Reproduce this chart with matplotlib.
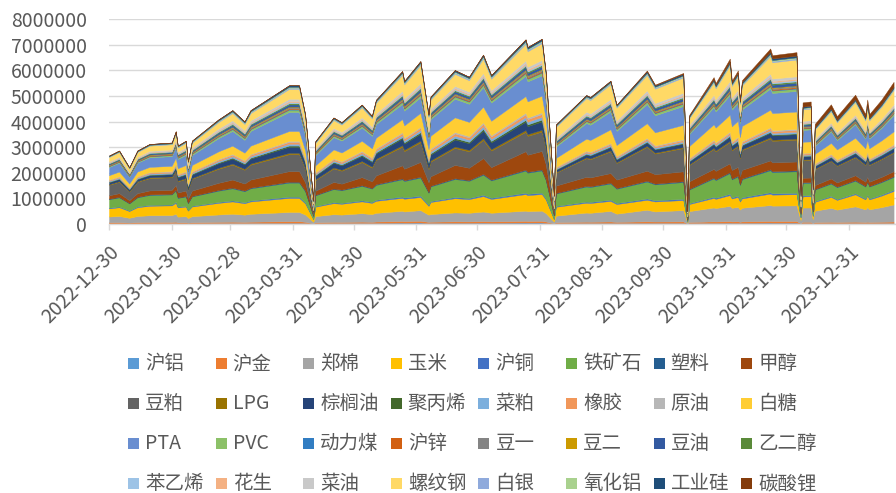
"""
各品种持仓量堆积面积图 (2022-12-30 ~ 2024-01)
数值单位: 千手, 画图时 x1000
"""
import datetime as dt

import matplotlib
matplotlib.use("Agg")
import matplotlib.pyplot as plt
from matplotlib.patches import Rectangle
from matplotlib.ticker import FuncFormatter

plt.rcParams['font.family'] = ['Noto Sans CJK SC', 'DejaVu Sans']

DATES = [
    "2022-12-30", "2023-01-04", "2023-01-09", "2023-01-13", "2023-01-19", "2023-01-30", "2023-02-01",
    "2023-02-02", "2023-02-06", "2023-02-07", "2023-02-09", "2023-02-22", "2023-03-01", "2023-03-07",
    "2023-03-10", "2023-03-29", "2023-04-03", "2023-04-06", "2023-04-10",
    "2023-04-11", "2023-04-20", "2023-04-24", "2023-05-04", "2023-05-09", "2023-05-11", "2023-05-24",
    "2023-05-25", "2023-06-02", "2023-06-06",
    "2023-06-07", "2023-06-19", "2023-06-26", "2023-07-03", "2023-07-07", "2023-07-24", "2023-07-25",
    "2023-08-01", "2023-08-03", "2023-08-07",
    "2023-08-08", "2023-08-23", "2023-08-25", "2023-09-04", "2023-09-07", "2023-09-22", "2023-09-26",
    "2023-10-10", "2023-10-12",
    "2023-10-13", "2023-10-25", "2023-10-26", "2023-11-02", "2023-11-03", "2023-11-06", "2023-11-07",
    "2023-11-08", "2023-11-22", "2023-11-23", "2023-12-05", "2023-12-07",
    "2023-12-08", "2023-12-12", "2023-12-13", "2023-12-14", "2023-12-22", "2023-12-25", "2024-01-03",
    "2024-01-08", "2024-01-09", "2024-01-10", "2024-01-16", "2024-01-22",
]

hu_lv = [29, 31, 24, 31, 34, 35, 40,  30, 32, 24, 32, 39, 42, 38, 42, 50, 50, 39,  9,
         32, 40, 39, 44, 41, 46, 55, 52, 58, 39,  45, 51, 50, 55, 50, 58, 56, 58, 47,  10,
         35, 43, 42, 46, 40, 48, 45, 47,  5,  38, 48, 47, 53, 48, 50, 42, 48, 55, 53, 54,  10,
         40, 40, 13, 35, 40, 37, 42, 37, 41, 37, 41, 44]
hu_jin = [37, 40, 31, 40, 43, 44, 50,  33, 35, 26, 35, 45, 49, 44, 49, 61, 61, 48,  9,
          34, 43, 41, 49, 44, 51, 63, 59, 67, 45,  45, 54, 52, 59, 52, 65, 62, 65, 53,  10,
          37, 48, 47, 53, 44, 57, 52, 56,  5,  40, 55, 52, 61, 53, 57, 46, 53, 65, 63, 64,  11,
          45, 45, 13, 37, 44, 40, 48, 40, 46, 40, 46, 53]
zheng_mian = [225, 242, 187, 242, 264, 269, 306,  225, 237, 180, 237, 287, 308, 283, 308, 358, 358, 283,  68,
              240, 298, 287, 328, 302, 338, 397, 378, 416, 280,  298, 346, 335, 372, 337, 396, 384, 397, 325,  72,
              252, 355, 348, 411, 319, 450, 393, 440,  50,
              426, 541, 524, 592, 531, 560, 473, 533, 618, 601, 609,  130,
              556, 560, 161, 445, 545, 484, 597, 495, 571, 495, 571, 666]
yu_mi = [318, 342, 264, 342, 372, 379, 432,  360, 379, 288, 379, 453, 482, 447, 482, 550, 550, 435,  104,
         368, 433, 423, 462, 438, 470, 505, 497, 512, 344,  471, 556, 535, 603, 540, 648, 626, 650, 531,  99,
         348, 385, 383, 391, 376, 390, 390, 391,  33,
         277, 373, 358, 421, 364, 390, 315, 365, 447, 429, 437,  102,
         438, 441, 126, 348, 429, 380, 471, 389, 450, 389, 450, 527]
hu_tong = [27, 29, 22, 29, 31, 32, 36,  26, 27, 20, 27, 35, 38, 34, 38, 47, 47, 37,  8,
           27, 35, 34, 40, 36, 41, 51, 48, 54, 37,  37, 45, 43, 50, 44, 54, 52, 54, 44,  9,
           33, 43, 42, 48, 40, 51, 46, 50,  4,  34, 46, 44, 52, 45, 48, 39, 45, 55, 53, 54,  9,
           38, 38, 11, 31, 37, 33, 40, 34, 39, 34, 39, 44]
tie_kuang = [331, 356, 275, 356, 388, 395, 450,  345, 364, 276, 364, 441, 473, 434, 473, 550, 550, 435,  117,
             416, 513, 495, 563, 520, 580, 674, 644, 704, 473,  570, 704, 670, 783, 678, 864, 823, 866, 708,  138,
             484, 589, 582, 633, 556, 660, 619, 654,  63,
             533, 718, 688, 809, 700, 750, 605, 703, 859, 825, 840,  130,
             485, 485, 161, 445, 481, 462, 491, 466, 486, 466, 486, 500]
su_liao = [19, 20, 15, 20, 22, 22, 25,  18, 19, 14, 19, 24, 27, 24, 27, 33, 33, 26,  5,
           18, 23, 22, 26, 23, 27, 33, 31, 35, 24,  25, 30, 29, 33, 29, 36, 35, 36, 30,  6,
           21, 28, 27, 31, 26, 33, 30, 32,  3,  23, 32, 30, 36, 31, 33, 27, 31, 38, 36, 37,  6,
           26, 26, 8, 21, 26, 23, 28, 23, 27, 23, 27, 31]
jia_chun = [133, 143, 110, 143, 155, 158, 180,  195, 211, 156, 211, 281, 315, 274, 315, 413, 413, 326,  45,
            160, 257, 234, 316, 262, 341, 511, 448, 576, 387,  372, 519, 481, 616, 489, 718, 666, 722, 590,  83,
            290, 350, 347, 375, 332, 390, 368, 386,  35,
            298, 336, 332, 343, 335, 340, 318, 335, 344, 343, 344,  45,
            177, 178, 56, 155, 175, 163, 184, 166, 180, 166, 180, 194]
dou_po = [411, 442, 341, 442, 481, 490, 558,  435, 458, 348, 458, 546, 581, 538, 581, 660, 660, 522,  117,
          416, 526, 504, 584, 533, 605, 727, 686, 768, 516,  570, 662, 640, 711, 646, 756, 734, 758, 620,  143,
          503, 725, 708, 846, 648, 930, 805, 907,  75,
          639, 779, 759, 833, 769, 800, 699, 770, 859, 842, 850,  181,
          686, 686, 224, 619, 680, 646, 701, 652, 690, 652, 690, 722]
lpg = [27, 29, 22, 29, 31, 32, 36,  30, 32, 24, 32, 41, 45, 40, 45, 55, 55, 44,  9,
       32, 41, 40, 47, 42, 48, 60, 56, 64, 43,  50, 60, 57, 66, 58, 72, 69, 72, 59,  8,
       27, 35, 35, 39, 33, 42, 38, 41,  4,  30, 40, 39, 45, 39, 42, 34, 39, 48, 46, 47,  7,
       28, 29, 8, 23, 28, 25, 30, 26, 29, 26, 29, 33]
zong_lv = [72, 77, 59, 77, 84, 85, 97,  128, 136, 102, 136, 173, 189, 169, 189, 234, 234, 185,  38,
           136, 176, 168, 198, 179, 206, 255, 238, 272, 183,  223, 270, 258, 297, 261, 324, 311, 325, 266,  24,
           85, 111, 109, 124, 102, 132, 119, 130,  13,
           107, 144, 138, 162, 140, 150, 121, 141, 172, 165, 168,  28,
           118, 119, 35, 97, 116, 105, 126, 107, 121, 107, 121, 139]
ju_bing = [19, 20, 15, 20, 22, 22, 25,  27, 29, 22, 29, 37, 40, 36, 40, 50, 50, 39,  8,
           29, 37, 36, 42, 38, 44, 54, 50, 58, 39,  50, 60, 57, 66, 58, 72, 69, 72, 59,  6,
           19, 25, 25, 28, 23, 30, 27, 30,  3,  21, 29, 28, 32, 28, 30, 24, 28, 34, 33, 34,  6,
           24, 24, 7, 19, 23, 21, 25, 21, 24, 21, 24, 28]
cai_po = [34, 37, 29, 37, 40, 41, 47,  39, 42, 31, 42, 53, 58, 52, 58, 72, 72, 57,  12,
          42, 54, 51, 60, 55, 63, 78, 73, 83, 56,  74, 90, 86, 99, 87, 108, 104, 108, 89,  11,
          39, 50, 50, 56, 47, 60, 54, 59,  5,  43, 57, 55, 65, 56, 60, 48, 56, 69, 66, 67,  10,
          43, 43, 13, 35, 42, 38, 45, 38, 44, 38, 44, 50]
xiang_jiao = [32, 34, 26, 34, 37, 38, 43,  40, 41, 31, 41, 52, 58, 51, 58, 71, 72, 56,  12,
              41, 54, 52, 60, 54, 63, 77, 73, 84, 56,  74, 89, 86, 98, 87, 107, 103, 108, 88,  10,
              35, 45, 45, 51, 42, 54, 49, 53,  5,  43, 58, 55, 64, 56, 61, 48, 57, 69, 66, 68,  10,
              42, 43, 12, 35, 41, 38, 46, 38, 43, 38, 43, 50]
yuan_you = [19, 20, 15, 20, 22, 22, 25,  21, 22, 17, 22, 28, 31, 28, 31, 39, 39, 30,  6,
            22, 29, 28, 33, 29, 34, 42, 39, 45, 30,  45, 54, 52, 59, 52, 65, 62, 65, 53,  7,
            23, 30, 30, 34, 28, 36, 33, 35,  3,  26, 34, 33, 39, 34, 36, 29, 34, 41, 40, 40,  7,
            28, 29, 8, 23, 28, 25, 30, 26, 29, 26, 29, 33]
bai_tang = [172, 185, 143, 185, 202, 205, 234,  225, 239, 180, 239, 296, 321, 291, 321, 385, 385, 305,  77,
            272, 352, 336, 395, 357, 411, 510, 476, 544, 366,  496, 572, 554, 612, 559, 648, 631, 650, 531,  99,
            348, 468, 459, 529, 427, 570, 509, 559,  55,
            469, 599, 579, 657, 587, 620, 522, 589, 687, 667, 676,  106,
            435, 437, 132, 364, 429, 390, 460, 397, 444, 397, 444, 500]
pta = [318, 342, 264, 342, 372, 379, 432,  360, 388, 288, 388, 513, 573, 501, 573, 743, 743, 587,  113,
       400, 480, 466, 518, 486, 531, 592, 574, 608, 409,  645, 725, 706, 762, 711, 792, 778, 794, 649,  127,
       445, 607, 596, 692, 552, 750, 664, 735,  55,
       469, 664, 631, 767, 645, 700, 543, 647, 824, 785, 802,  90,
       461, 469, 112, 310, 447, 361, 527, 375, 485, 375, 485, 638]
pvc = [34, 37, 29, 37, 40, 41, 47,  48, 51, 38, 51, 65, 71, 64, 71, 88, 88, 70,  13,
       46, 60, 57, 67, 61, 70, 87, 81, 93, 62,  69, 84, 80, 92, 81, 101, 97, 101, 83,  17,
       58, 76, 74, 84, 70, 90, 81, 89,  7,  58, 77, 74, 87, 76, 81, 65, 76, 93, 89, 91,  13,
       54, 55, 16, 45, 53, 48, 58, 49, 56, 49, 56, 64]
dong_li_mei = [11, 11, 9, 11, 12, 13, 14,  12, 13, 10, 13, 16, 18, 16, 18, 22, 22, 17,  3,
               10, 12, 12, 14, 13, 15, 18, 17, 19, 13,  15, 18, 17, 20, 17, 22, 21, 22, 18,  3,
               12, 15, 15, 17, 14, 18, 16, 18,  2,  13, 17, 17, 19, 17, 18, 15, 17, 21, 20, 20,  3,
               14, 14, 4, 12, 14, 13, 15, 13, 15, 13, 15, 17]
hu_xin = [19, 20, 15, 20, 22, 22, 25,  18, 19, 14, 19, 24, 27, 24, 27, 33, 33, 26,  5,
          19, 25, 24, 28, 25, 29, 36, 34, 38, 26,  30, 36, 34, 40, 35, 43, 41, 43, 35,  7,
          23, 30, 30, 34, 28, 36, 33, 35,  3,  26, 34, 33, 39, 34, 36, 29, 34, 41, 40, 40,  7,
          28, 29, 8, 23, 28, 25, 30, 26, 29, 26, 29, 33]
dou_yi = [19, 20, 15, 20, 22, 22, 25,  23, 24, 18, 24, 30, 33, 30, 33, 41, 41, 33,  6,
          22, 29, 28, 33, 29, 34, 42, 39, 45, 30,  35, 42, 40, 46, 41, 50, 48, 51, 41,  7,
          23, 30, 30, 34, 28, 36, 33, 35,  3,  26, 34, 33, 39, 34, 36, 29, 34, 41, 40, 40,  7,
          28, 29, 8, 23, 28, 25, 30, 26, 29, 26, 29, 33]
dou_er = [11, 11, 9, 11, 12, 13, 14,  14, 14, 11, 14, 18, 20, 18, 20, 25, 25, 20,  4,
          13, 17, 16, 19, 17, 19, 24, 22, 26, 17,  20, 24, 23, 26, 23, 29, 28, 29, 24,  4,
          15, 20, 20, 22, 19, 24, 22, 24,  2,  17, 23, 22, 26, 22, 24, 19, 22, 27, 26, 27,  5,
          19, 19, 6, 15, 19, 17, 20, 17, 19, 17, 19, 22]
dou_you = [34, 37, 29, 37, 40, 41, 47,  47, 50, 37, 50, 63, 69, 62, 69, 85, 85, 67,  13,
           46, 60, 57, 67, 61, 70, 87, 81, 93, 62,  72, 87, 83, 96, 84, 104, 100, 105, 86,  18,
           64, 83, 82, 93, 77, 99, 90, 97,  8,  68, 92, 88, 104, 90, 96, 77, 90, 110, 106, 108,  14,
           59, 60, 18, 48, 58, 52, 63, 53, 61, 53, 61, 69]
yi_er_chun = [19, 20, 15, 20, 22, 22, 25,  24, 26, 19, 26, 32, 36, 32, 36, 44, 44, 35,  7,
              24, 31, 30, 35, 32, 36, 45, 42, 48, 32,  35, 42, 40, 46, 41, 50, 48, 51, 41,  8,
              29, 38, 37, 42, 35, 45, 41, 44,  4,  32, 43, 41, 49, 42, 45, 36, 42, 52, 50, 50,  8,
              33, 33, 10, 27, 33, 29, 35, 30, 34, 30, 34, 39]
ben_yi_xi = [18, 21, 15, 20, 23, 22, 24,  25, 25, 19, 26, 33, 35, 32, 36, 45, 44, 35,  7,
             25, 30, 30, 34, 32, 37, 44, 42, 49, 33,  36, 41, 40, 47, 41, 51, 47, 50, 41,  8,
             28, 38, 38, 41, 35, 46, 40, 44,  4,  31, 44, 41, 48, 42, 46, 36, 43, 51, 50, 51,  8,
             32, 34, 10, 28, 32, 30, 35, 29, 35, 30, 33, 40]
hua_sheng = [19, 20, 15, 20, 22, 22, 25,  24, 26, 19, 26, 32, 36, 32, 36, 44, 44, 35,  7,
             24, 31, 30, 35, 32, 36, 45, 42, 48, 32,  35, 42, 40, 46, 41, 50, 48, 51, 41,  8,
             29, 38, 37, 42, 35, 45, 41, 44,  4,  30, 40, 39, 45, 39, 42, 34, 39, 48, 46, 47,  7,
             28, 29, 8, 23, 28, 25, 30, 26, 29, 26, 29, 33]
cai_you = [34, 37, 29, 37, 40, 41, 47,  48, 51, 38, 51, 65, 71, 64, 71, 88, 88, 70,  13,
           46, 60, 57, 67, 61, 70, 87, 81, 93, 62,  69, 84, 80, 92, 81, 101, 97, 101, 83,  17,
           60, 78, 77, 87, 72, 93, 84, 91,  7,  62, 83, 80, 94, 81, 87, 70, 81, 100, 96, 97,  14,
           57, 57, 17, 46, 56, 50, 60, 51, 58, 51, 58, 67]
luo_wen = [172, 185, 143, 185, 202, 205, 234,  165, 180, 132, 180, 249, 283, 242, 283, 385, 385, 305,  54,
           192, 311, 282, 384, 317, 414, 624, 546, 704, 473,  347, 475, 442, 558, 449, 648, 602, 650, 531,  121,
           426, 527, 520, 572, 494, 600, 558, 593,  30,
           256, 475, 436, 608, 450, 521, 333, 454, 687, 634, 656,  102,
           449, 454, 126, 348, 440, 384, 489, 393, 464, 393, 464, 555]
bai_yin = [19, 20, 15, 20, 22, 22, 25,  26, 27, 20, 27, 35, 38, 34, 38, 47, 47, 37,  7,
           26, 33, 32, 37, 34, 39, 48, 45, 51, 34,  40, 48, 46, 53, 46, 58, 55, 58, 47,  9,
           31, 40, 40, 45, 37, 48, 43, 47,  4,  30, 40, 39, 45, 39, 42, 34, 39, 48, 46, 47,  8,
           33, 33, 10, 27, 33, 29, 35, 30, 34, 30, 34, 39]
yang_hua_lv = [11, 11, 9, 11, 12, 13, 14,  20, 21, 16, 21, 26, 29, 26, 29, 36, 36, 28,  5,
               19, 25, 24, 28, 25, 29, 36, 34, 38, 26,  30, 36, 34, 40, 35, 43, 41, 43, 35,  7,
               23, 30, 30, 34, 28, 36, 33, 35,  3,  26, 34, 33, 39, 34, 36, 29, 34, 41, 40, 40,  7,
               28, 29, 8, 23, 28, 25, 30, 26, 29, 26, 29, 33]
gong_ye_gui = [27, 29, 22, 29, 31, 32, 36,  32, 34, 25, 34, 43, 47, 42, 47, 58, 58, 46,  9,
               32, 41, 40, 47, 42, 48, 60, 56, 64, 43,  50, 60, 57, 66, 58, 72, 69, 72, 59,  11,
               39, 50, 50, 56, 47, 60, 54, 59,  5,  43, 57, 55, 65, 56, 60, 48, 56, 69, 66, 67,  11,
               47, 48, 14, 39, 47, 42, 50, 43, 48, 43, 48, 56]
tan_suan_li = [0, 0, 0, 0, 0, 0, 0,  0, 0, 0, 0, 0, 0, 0, 0, 0, 0, 0,  0,
               0, 0, 0, 0, 0, 0, 0, 0, 0, 0,  0, 0, 0, 0, 0, 0, 0, 0, 0,  0,
               0, 0, 0, 0, 0, 30, 27, 35,  3,  34, 86, 77, 116, 78, 96, 53, 79, 137, 125, 134,  40,
               166, 167, 49, 135, 163, 146, 176, 149, 169, 149, 169, 194]

NAMES = ["沪铝", "沪金", "郑棉", "玉米", "沪铜", "铁矿石", "塑料", "甲醇",
         "豆粕", "LPG", "棕榈油", "聚丙烯", "菜粕", "橡胶", "原油", "白糖",
         "PTA", "PVC", "动力煤", "沪锌", "豆一", "豆二", "豆油", "乙二醇",
         "苯乙烯", "花生", "菜油", "螺纹钢", "白银", "氧化铝", "工业硅", "碳酸锂"]
SERIES = [hu_lv, hu_jin, zheng_mian, yu_mi, hu_tong, tie_kuang, su_liao, jia_chun,
          dou_po, lpg, zong_lv, ju_bing, cai_po, xiang_jiao, yuan_you, bai_tang,
          pta, pvc, dong_li_mei, hu_xin, dou_yi, dou_er, dou_you, yi_er_chun,
          ben_yi_xi, hua_sheng, cai_you, luo_wen, bai_yin, yang_hua_lv, gong_ye_gui, tan_suan_li]
COLORS = ["#5B9BD5", "#ED7D31", "#A5A5A5", "#FFC000", "#4472C4", "#70AD47", "#255E91", "#9E480E",
          "#636363", "#997300", "#264478", "#43682B", "#7CAFDD", "#F1975A", "#B7B7B7", "#FFCD33",
          "#698ED0", "#8CC168", "#327DC2", "#D26012", "#848484", "#CC9A00", "#335AA1", "#5A8A39",
          "#9DC3E6", "#F4B183", "#C9C9C9", "#FFD966", "#8FAADC", "#A9D18E", "#1F4E79", "#843C0C"]
TICKS = ["2022-12-30", "2023-01-30", "2023-02-28", "2023-03-31", "2023-04-30", "2023-05-31",
         "2023-06-30", "2023-07-31", "2023-08-31", "2023-09-30", "2023-10-31", "2023-11-30",
         "2023-12-31"]

GREY = "#595959"
W, H = 896, 493

lens = {n: len(s) for n, s in zip(NAMES, SERIES)}
if any(v != len(DATES) for v in lens.values()):
    raise ValueError(f"length mismatch {len(DATES)}: {lens}")

day = lambda s: dt.datetime.strptime(s, "%Y-%m-%d")
x = [day(d) for d in DATES]
ys = [[v * 1000 for v in s] for s in SERIES]

fig = plt.figure(figsize=(W / 100, H / 100), dpi=100)
ax = fig.add_axes([109 / W, 1 - 224 / H, (W - 109) / W, 205 / H])

polys = ax.stackplot(x, ys, colors=COLORS, linewidth=0)
for p, c in zip(polys, COLORS):
    p.set_edgecolor(c)
    p.set_linewidth(0.3)

ax.set_ylim(0, 8000000)
ax.set_yticks(range(0, 8000001, 1000000))
ax.yaxis.set_major_formatter(FuncFormatter(lambda v, _: f"{int(v)}"))
ax.grid(axis="y", color="#D9D9D9", linewidth=1)
ax.set_axisbelow(True)

ax.set_xlim(x[0], x[0] + dt.timedelta(days=389.2))
ax.set_xticks([day(t) for t in TICKS])
ax.set_xticklabels(TICKS)
plt.setp(ax.get_xticklabels(), rotation=45, ha="right", va="top", rotation_mode="anchor")

for s in ("left", "right", "top"):
    ax.spines[s].set_visible(False)
ax.spines["bottom"].set_color("#D9D9D9")
ax.spines["bottom"].set_linewidth(1)
ax.tick_params(axis="y", length=0, pad=16, labelsize=14, labelcolor=GREY)
ax.tick_params(axis="x", length=4, width=1, color="#D9D9D9", pad=9, labelsize=14, labelcolor=GREY)

# 图例: 8列 x 4行, 等宽列 (Excel 风格)
lg = fig.add_axes([0, 0, 1, 1])
lg.set_xlim(0, W)
lg.set_ylim(H, 0)
lg.axis("off")
for i, (name, c) in enumerate(zip(NAMES, COLORS)):
    row, col = divmod(i, 8)
    x0 = 128 + 87.6 * col
    yc = 363.5 + 40 * row
    lg.add_patch(Rectangle((x0, yc - 5.5), 11, 11, color=c, lw=0))
    lg.text(x0 + 17, yc, name, va="center", ha="left", fontsize=14, color=GREY)

fig.savefig("out.png", dpi=100)
